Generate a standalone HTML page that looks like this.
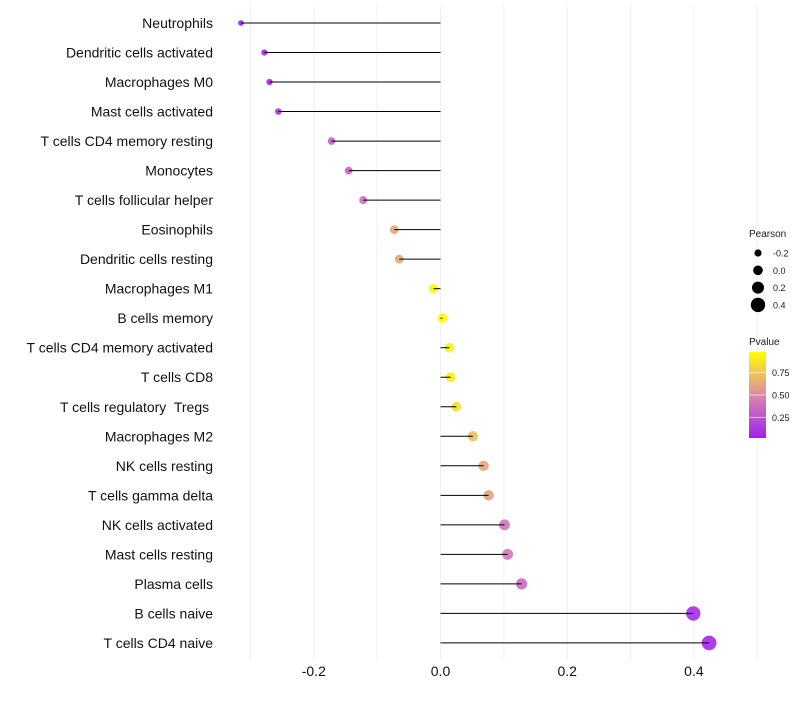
<!DOCTYPE html>
<html><head><meta charset="utf-8"><style>
body{margin:0;background:#fff;}
svg text{font-family:"Liberation Sans",sans-serif;}
</style></head><body>
<svg id="chart" width="800" height="700" xmlns="http://www.w3.org/2000/svg">
<defs>
<linearGradient id="pg" x1="0" y1="1" x2="0" y2="0">
<stop offset="0" stop-color="#a020f0"/>
<stop offset="0.5" stop-color="#d98aa8"/>
<stop offset="1" stop-color="#ffff00"/>
</linearGradient>
</defs>
<g id="grid"></g>
<g id="ylabels"></g>
<g id="marks"></g>
<g id="xlabels"></g>
<g>
<text x="749" y="237" font-size="10" fill="#1a1a1a">Pearson</text>
<g id="sizeLegend"></g>
</g>
<g>
<text x="749" y="345" font-size="10" fill="#1a1a1a">Pvalue</text>
<rect x="749" y="352" width="17" height="86" fill="url(#pg)"/>
<g id="colorLegend"></g>
</g>
</svg>
<script>
const categories=["Neutrophils","Dendritic cells activated","Macrophages M0","Mast cells activated","T cells CD4 memory resting","Monocytes","T cells follicular helper","Eosinophils","Dendritic cells resting","Macrophages M1","B cells memory","T cells CD4 memory activated","T cells CD8","T cells regulatory\u00a0 Tregs\u00a0","Macrophages M2","NK cells resting","T cells gamma delta","NK cells activated","Mast cells resting","Plasma cells","B cells naive","T cells CD4 naive"];
const pearson=[-0.315,-0.278,-0.270,-0.256,-0.172,-0.145,-0.122,-0.073,-0.065,-0.011,0.003,0.014,0.016,0.025,0.051,0.068,0.076,0.101,0.106,0.128,0.399,0.424];
const pvalues=[0.03,0.04,0.05,0.07,0.3,0.33,0.38,0.62,0.63,0.96,0.98,0.93,0.92,0.86,0.72,0.62,0.6,0.4,0.42,0.35,0.05,0.04];
const xTicks=[-0.2,0.0,0.2,0.4];
const xGrid=[-0.3,-0.2,-0.1,0,0.1,0.2,0.3,0.4,0.5];
const sizeLegendVals=[-0.2,0.0,0.2,0.4];
const colorLegendVals=[0.25,0.5,0.75];
const NS="http://www.w3.org/2000/svg";
function xs(v){return 440.5+v*633.5;}
function ys(i){return 23+i*29.52;}
function rs(v){return 4.8+6*v;}
function ps(p){return 438-(p-0.02)/0.96*86;}
function col(p){
 const stops=[[0,[160,32,240]],[0.5,[217,138,168]],[1,[255,255,0]]];
 let t=Math.max(0,Math.min(1,p));
 let a=t<0.5?stops[0]:stops[1],b=t<0.5?stops[1]:stops[2];
 let f=(t-a[0])/(b[0]-a[0]);
 let c=a[1].map((x,k)=>Math.round(x+(b[1][k]-x)*f));
 return `rgb(${c[0]},${c[1]},${c[2]})`;
}
function mk(tag,attrs,parent){const e=document.createElementNS(NS,tag);for(const k in attrs)e.setAttribute(k,attrs[k]);parent.appendChild(e);return e;}
const grid=document.getElementById('grid'),yl=document.getElementById('ylabels'),marks=document.getElementById('marks'),xl=document.getElementById('xlabels');
xGrid.forEach(v=>{const l=mk('line',{x1:xs(v),x2:xs(v),y1:5,y2:660,stroke:'#f0f0f0','stroke-width':1},grid);

});
categories.forEach((c,i)=>{
 const t=mk('text',{x:213,y:ys(i)+5,'text-anchor':'end','font-size':14,fill:'#111'},yl);t.textContent=c;
 
 
 const pt=mk('circle',{cx:xs(pearson[i]),cy:ys(i),r:rs(pearson[i]),fill:col(pvalues[i]),'fill-opacity':0.9},marks);
 
 
 const sg=mk('line',{x1:xs(0),x2:xs(pearson[i]),y1:ys(i),y2:ys(i),stroke:'#000','stroke-width':1},marks);
 
 
});
xTicks.forEach(v=>{const t=mk('text',{x:xs(v),y:676,'text-anchor':'middle','font-size':14,fill:'#111'},xl);t.textContent=v.toFixed(1);

});
const sl=document.getElementById('sizeLegend');
sizeLegendVals.forEach((v,i)=>{const y=253+i*17.3;
 const c=mk('circle',{cx:758,cy:y,r:rs(v),fill:'#000'},sl);
 
 
 const t=mk('text',{x:773,y:y+3.5,'font-size':9,fill:'#1a1a1a'},sl);t.textContent=v.toFixed(1);
 
 });
const cl=document.getElementById('colorLegend');
colorLegendVals.forEach(v=>{const y=ps(v);
 const l=mk('line',{x1:749,x2:766,y1:y,y2:y,stroke:'#fff','stroke-opacity':0.6},cl);
 
 
 const t=mk('text',{x:772,y:y+3.5,'font-size':9,fill:'#1a1a1a'},cl);t.textContent=v.toFixed(2);
 
 });
</script>
</body></html>
